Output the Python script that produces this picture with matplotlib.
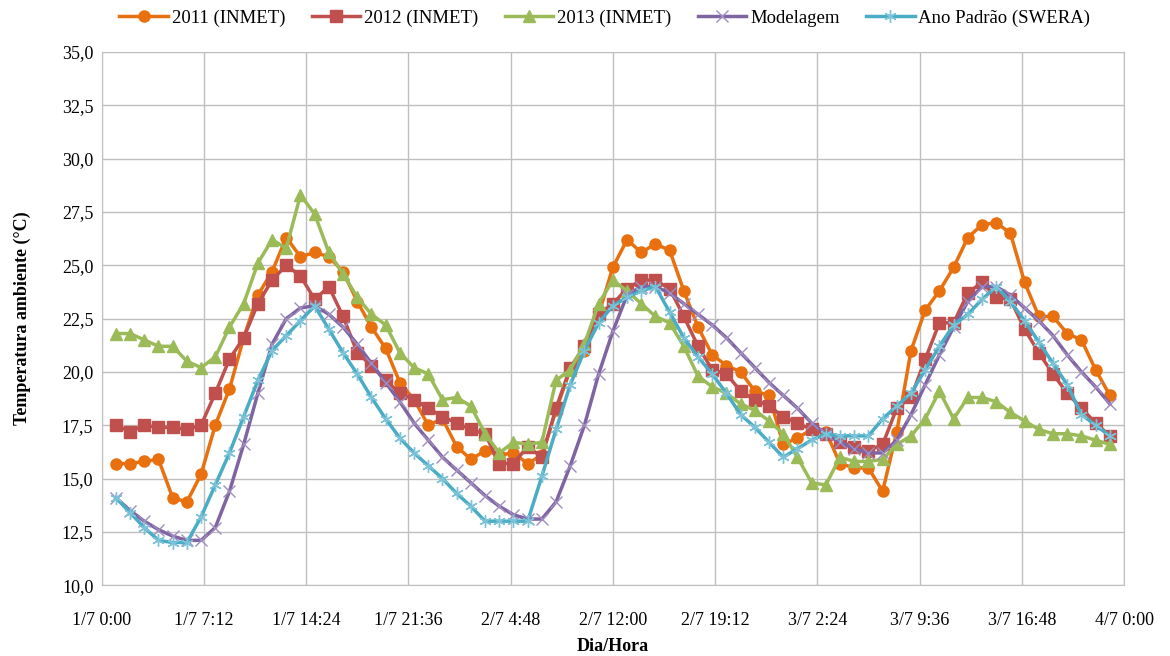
import numpy as np
import matplotlib
matplotlib.use("Agg")
import matplotlib.pyplot as plt

plt.rcParams['font.family'] = ['Liberation Serif', 'DejaVu Serif']

# hours after 1/7 0:00
horas = np.arange(1, 72)

t2011 = [15.7, 15.7, 15.8, 15.9, 14.1, 13.9, 15.2, 17.5, 19.2, 21.6,
         23.6, 24.7, 26.3, 25.4, 25.6, 25.4, 24.7, 23.3, 22.1, 21.1,
         19.5, 18.7, 17.5, 17.8, 16.5, 15.9, 16.3, 16.1, 16.2, 15.7,
         16.1, 18.2, 20.1, 21.0, 22.7, 24.9, 26.2, 25.6, 26.0, 25.7,
         23.8, 22.1, 20.8, 20.3, 20.0, 19.1, 18.9, 16.6, 16.9, 17.3,
         17.2, 15.7, 15.5, 15.5, 14.4, 17.2, 21.0, 22.9, 23.8, 24.9,
         26.3, 26.9, 27.0, 26.5, 24.2, 22.6, 22.6, 21.8, 21.5, 20.1,
         18.9]

t2012 = [17.5, 17.2, 17.5, 17.4, 17.4, 17.3, 17.5, 19.0, 20.6, 21.6,
         23.2, 24.3, 25.0, 24.5, 23.4, 24.0, 22.6, 20.9, 20.3, 19.6,
         19.0, 18.7, 18.3, 17.9, 17.6, 17.3, 17.1, 15.7, 15.7, 16.5,
         16.0, 18.3, 20.2, 21.2, 22.7, 23.2, 23.9, 24.3, 24.3, 23.9,
         22.6, 21.2, 20.1, 19.9, 19.1, 18.7, 18.4, 17.9, 17.6, 17.3,
         17.1, 16.7, 16.5, 16.3, 16.6, 18.3, 18.8, 20.6, 22.3, 22.3,
         23.7, 24.2, 23.5, 23.4, 22.0, 20.9, 19.9, 19.0, 18.3, 17.6,
         17.0]

t2013 = [21.8, 21.8, 21.5, 21.2, 21.2, 20.5, 20.2, 20.7, 22.1, 23.2,
         25.1, 26.2, 25.8, 28.3, 27.4, 25.6, 24.6, 23.5, 22.7, 22.2,
         20.9, 20.2, 19.9, 18.7, 18.8, 18.4, 17.1, 16.2, 16.7, 16.6,
         16.7, 19.6, 20.1, 21.3, 23.2, 24.3, 23.8, 23.2, 22.6, 22.3,
         21.2, 19.8, 19.3, 19.0, 18.5, 18.2, 17.7, 17.1, 16.0, 14.8,
         14.7, 16.0, 15.8, 15.8, 15.9, 16.6, 17.0, 17.8, 19.1, 17.8,
         18.8, 18.8, 18.6, 18.1, 17.7, 17.3, 17.1, 17.1, 17.0, 16.8,
         16.6]

modelagem = [14.1, 13.5, 13.0, 12.6, 12.3, 12.1, 12.1, 12.7, 14.4, 16.6,
             19.0, 21.3, 22.5, 23.0, 23.1, 22.7, 22.1, 21.3, 20.4, 19.5,
             18.6, 17.6, 16.8, 16.0, 15.4, 14.8, 14.2, 13.7, 13.3, 13.1,
             13.1, 13.9, 15.6, 17.5, 19.9, 21.9, 23.6, 24.0, 24.0, 23.7,
             23.2, 22.7, 22.2, 21.6, 20.9, 20.2, 19.5, 18.9, 18.3, 17.6,
             17.1, 16.7, 16.4, 16.2, 16.2, 16.8, 18.0, 19.4, 20.8, 22.1,
             23.3, 24.0, 24.0, 23.6, 23.0, 22.4, 21.7, 20.8, 20.0, 19.3,
             18.5]

swera = [14.1, 13.4, 12.7, 12.1, 12.0, 12.0, 13.2, 14.7, 16.2, 17.9,
         19.6, 21.0, 21.7, 22.4, 23.1, 22.0, 20.9, 19.9, 18.8, 17.8,
         16.9, 16.2, 15.6, 15.0, 14.3, 13.7, 13.0, 13.0, 13.0, 13.0,
         15.1, 17.3, 19.4, 21.0, 22.3, 23.1, 23.5, 23.8, 24.0, 22.8,
         21.6, 20.7, 19.9, 19.0, 18.0, 17.4, 16.7, 16.0, 16.4, 16.8,
         17.1, 17.0, 17.0, 17.0, 17.8, 18.4, 19.0, 20.1, 21.2, 22.2,
         22.7, 23.4, 24.0, 23.3, 22.4, 21.4, 20.4, 19.4, 18.0, 17.5,
         17.0]

xticks = np.arange(0, 72.1, 7.2)
xlabels = ["1/7 0:00", "1/7 7:12", "1/7 14:24", "1/7 21:36", "2/7 4:48",
           "2/7 12:00", "2/7 19:12", "3/7 2:24", "3/7 9:36", "3/7 16:48",
           "4/7 0:00"]
yticks = np.arange(10, 35.1, 2.5)

fig = plt.figure(figsize=(11.7, 6.56), dpi=100)
ax = fig.add_axes([0.0869, 0.108, 0.8738, 0.8127])

ax.plot(horas, t2011, color='#E8700E', lw=2.5, marker='o', ms=8,
        label='2011 (INMET)', zorder=3)
ax.plot(horas, t2012, color='#C0504D', lw=2.5, marker='s', ms=8,
        label='2012 (INMET)', zorder=4)
ax.plot(horas, t2013, color='#9BBB59', lw=2.5, marker='^', ms=9,
        label='2013 (INMET)', zorder=5)
ax.plot(horas, modelagem, color='#8064A2', lw=2.5, marker='x', ms=8,
        mew=1.0, mec='#A08DC0', label='Modelagem', zorder=6)
ax.plot(horas, swera, color='#4BACC6', lw=2.5, marker=(6, 2, 0), ms=9,
        mew=1.0, mec='#7CC3D8', label='Ano Padrão (SWERA)', zorder=7)

ax.set_xlim(0, 72)
ax.set_ylim(10, 35)
ax.set_xticks(xticks)
ax.set_xticklabels(xlabels)
ax.set_yticks(yticks)
ax.set_yticklabels([f"{v:.1f}".replace('.', ',') for v in yticks])
ax.tick_params(axis='both', length=0, labelsize=13)
ax.tick_params(axis='x', pad=19)
ax.tick_params(axis='y', pad=6)
ax.grid(True, color='#BFBFBF', lw=1)
ax.set_axisbelow(True)
for s in ax.spines.values():
    s.set_color('#BFBFBF')

ax.set_xlabel('Dia/Hora', fontsize=13, fontweight='bold', labelpad=7)
ax.set_ylabel('Temperatura ambiente (°C)', fontsize=13, fontweight='bold',
              labelpad=22)

fig.legend(*ax.get_legend_handles_labels(), loc='center',
           bbox_to_anchor=(0.517, 1 - 18 / 656), ncol=5, frameon=False,
           fontsize=13.5, handlelength=2.6, handletextpad=0.2,
           columnspacing=1.4)

fig.savefig('out.png', dpi=100)
